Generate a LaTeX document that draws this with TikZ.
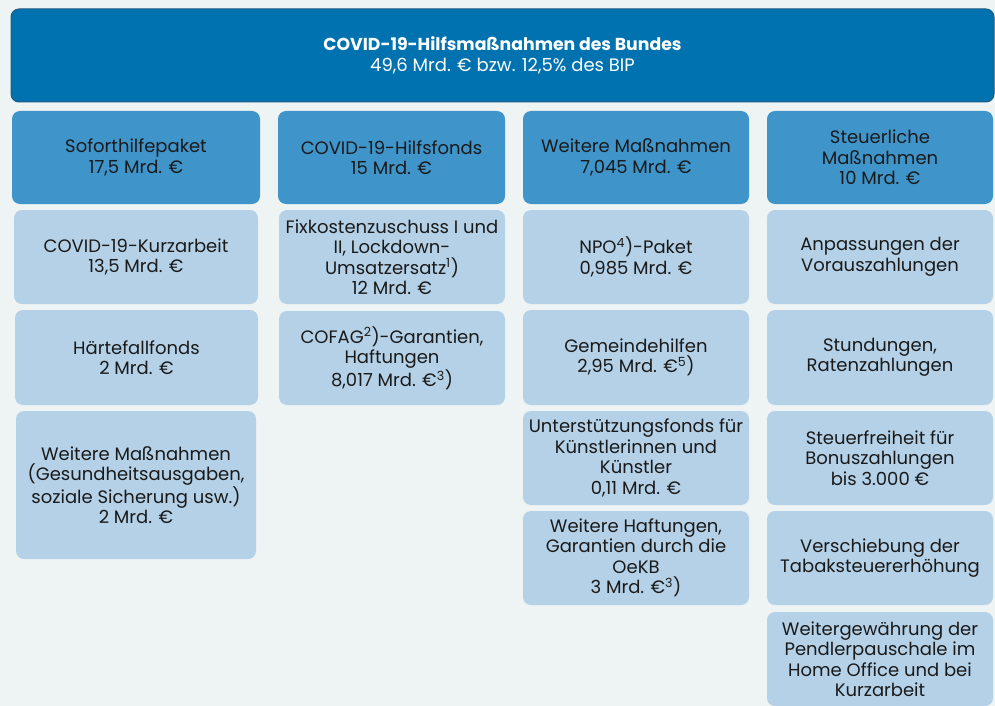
\documentclass[tikz,border=0pt]{standalone}
\usepackage{fontspec}
\setmainfont{Poppins}
\definecolor{bg}{HTML}{EEF4F4}
\definecolor{topc}{HTML}{0072B0}
\definecolor{topb}{HTML}{1E5A84}
\definecolor{lev}{HTML}{3F94CA}
\definecolor{subc}{HTML}{B4D1E7}
\definecolor{txt}{HTML}{1A1A1A}
\begin{document}
\begin{tikzpicture}[x=1pt,y=1pt,
  box/.style={rounded corners=8pt, align=center, inner sep=1pt, text=txt,
    font=\fontsize{18}{20.5}\selectfont},
  topbox/.style={box, fill=topc, draw=topb, line width=1pt, text=white},
  levbox/.style={box, fill=lev},
  subbox/.style={box, fill=subc}]
\fill[bg] (0,0) rectangle (995,-706);
\useasboundingbox (0,0) rectangle (995,-706);
\newcommand{\bx}[7]{% style, name, x1, x2, y1, y2, text
  \node[#1, minimum width=#4-#3, minimum height=#6-#5] (#2) at ({(#3+#4)/2},{-(#5+#6)/2}) {#7};}
\bx{topbox}{top}{11}{994}{9}{102}{{\fontsize{17.3}{20.5}\selectfont\textbf{COVID-19-Hilfsmaßnahmen des Bundes}}\\49,6 Mrd. € bzw. 12,5\% des BIP}
% level 1
\bx{levbox}{a}{12}{260}{111}{204}{Soforthilfepaket\\17,5 Mrd. €}
\bx{levbox}{b}{278}{505}{111}{204}{COVID-19-Hilfsfonds\\15 Mrd. €}
\bx{levbox}{c}{523}{749}{111}{204}{Weitere Maßnahmen\\7,045 Mrd. €}
\bx{levbox}{d}{767}{993}{111}{204}{Steuerliche\\Maßnahmen\\10 Mrd. €}
% column 1
\bx{subbox}{a1}{14}{258}{210}{304}{COVID-19-Kurzarbeit\\13,5 Mrd. €}
\bx{subbox}{a2}{15}{258}{310}{405}{Härtefallfonds\\2 Mrd. €}
\bx{subbox}{a3}{16}{256}{411}{559}{Weitere Maßnahmen\\(Gesundheitsausgaben,\\soziale Sicherung usw.)\\2 Mrd. €}
% column 2
\bx{subbox}{b1}{279}{505}{210}{304}{Fixkostenzuschuss I und\\II, Lockdown-\\Umsatzersatz\textsuperscript{1})\\12 Mrd. €}
\bx{subbox}{b2}{279}{505}{311}{405}{COFAG\textsuperscript{2})-Garantien,\\Haftungen\\8,017 Mrd. €\textsuperscript{3})}
% column 3
\bx{subbox}{c1}{523}{749}{210}{304}{NPO\textsuperscript{4})-Paket\\0,985 Mrd. €}
\bx{subbox}{c2}{523}{749}{310}{405}{Gemeindehilfen\\2,95 Mrd. €\textsuperscript{5})}
\bx{subbox}{c3}{523}{749}{411}{505}{Unterstützungsfonds für\\Künstlerinnen und\\Künstler\\0,11 Mrd. €}
\bx{subbox}{c4}{523}{749}{511}{605}{Weitere Haftungen,\\Garantien durch die\\OeKB\\3 Mrd. €\textsuperscript{3})}
% column 4
\bx{subbox}{d1}{767}{993}{210}{304}{Anpassungen der\\Vorauszahlungen}
\bx{subbox}{d2}{767}{993}{310}{405}{Stundungen,\\Ratenzahlungen}
\bx{subbox}{d3}{767}{993}{411}{505}{Steuerfreiheit für\\Bonuszahlungen\\bis 3.000 €}
\bx{subbox}{d4}{767}{993}{511}{605}{Verschiebung der\\Tabaksteuererhöhung}
\bx{subbox}{d5}{767}{993}{612}{706}{Weitergewährung der\\Pendlerpauschale im\\Home Office und bei\\Kurzarbeit}
\end{tikzpicture}
\end{document}
